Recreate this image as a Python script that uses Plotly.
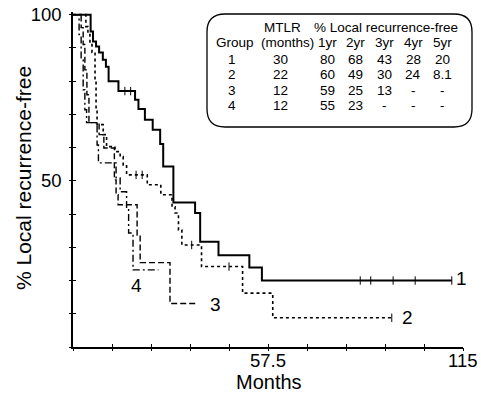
import numpy as np
import plotly.graph_objects as go

# Kaplan-Meier style step curves: event times (months) and survival (%)
g1_t = [0, 5.2, 5.9, 6.8, 7.7, 8.8, 9.7, 10.5, 13.4, 18.3, 19.3, 21.2, 23.5, 25.7, 26.6, 29.6, 36.0, 37.5, 42.9, 52.0, 55.7]
g1_s = [100, 94.9, 91.9, 90.4, 88.6, 86.4, 84.3, 80.0, 77.0, 74.4, 71.6, 68.4, 65.4, 61.1, 54.3, 43.5, 40.3, 31.7, 27.6, 23.9, 20.0]
g1_end = 111.7
g1_cens = [15.3, 17.0, 84.7, 87.8, 94.4, 100.9, 111.7]

g2_t = [0, 3.8, 4.4, 5.0, 5.6, 6.5, 6.8, 7.1, 8.9, 9.9, 12.4, 13.9, 14.8, 15.8, 21.9, 25.9, 29.2, 30.1, 31.1, 32.1, 37.9, 50.0, 58.9]
g2_s = [100, 96.4, 94.0, 91.0, 88.6, 80.4, 71.4, 66.9, 63.9, 60.3, 58.8, 57.3, 54.8, 51.8, 48.8, 45.8, 42.2, 40.3, 35.2, 30.7, 24.2, 16.2, 8.8]
g2_end = 94.0
g2_cens = [18.6, 20.4, 35.0, 46.0, 94.0]

g3_t = [0, 2.4, 3.0, 3.5, 4.1, 4.7, 7.7, 9.1, 12.2, 12.7, 13.3, 18.9, 19.8, 28.6]
g3_s = [100, 96.1, 91.0, 83.4, 75.9, 67.5, 63.9, 59.9, 50.3, 45.8, 42.8, 33.7, 25.4, 13.1]
g3_end = 36.9

g4_t = [0, 1.8, 2.4, 3.0, 3.5, 4.0, 7.1, 7.5, 12.7, 13.9, 15.8, 16.4, 17.7]
g4_s = [100, 94.0, 86.4, 77.4, 71.4, 67.5, 60.8, 55.4, 50.9, 46.7, 41.3, 34.3, 23.2]
g4_end = 25.2

# Summary table
tbl_groups = ["1", "2", "3", "4"]
tbl_mtlr = ["30", "22", "12", "12"]
tbl_years = ["1yr", "2yr", "3yr", "4yr", "5yr"]
tbl_rates = [
    ["80", "68", "43", "28", "20"],
    ["60", "49", "30", "24", "8.1"],
    ["59", "25", "13", "-", "-"],
    ["55", "23", "-", "-", "-"],
]

x_ticks = [11.5 * i for i in range(11)]
x_labels = {57.5: "57.5", 115: "115"}
y_ticks = list(range(0, 101, 10))
y_labels = {50: "50", 100: "100"}

FONT = "Liberation Sans, Arial, sans-serif"
W, H = 481, 395
ML, MR, MT, MB = 73, 18, 12, 48

fig = go.Figure()


def km(t, s, end, dash, width, name):
    xs = list(t) + [end]
    ys = list(s) + [s[-1]]
    fig.add_trace(go.Scatter(x=xs, y=ys, mode="lines", line_shape="hv",
                             line=dict(color="black", width=width, dash=dash),
                             name=name, showlegend=False, hoverinfo="skip"))


def censor(t, s, times):
    t = np.asarray(t)
    s = np.asarray(s)
    idx = np.searchsorted(t, times, side="right") - 1
    fig.add_trace(go.Scatter(x=times, y=s[idx], mode="markers",
                             marker=dict(symbol="line-ns", size=6,
                                         line=dict(color="black", width=1)),
                             showlegend=False, hoverinfo="skip"))


km(g1_t, g1_s, g1_end, "solid", 2.0, "1")
km(g2_t, g2_s, g2_end, "dot", 1.6, "2")
km(g3_t, g3_s, g3_end, "6px,3px", 1.4, "3")
km(g4_t, g4_s, g4_end, "7px,3px,2px,3px", 1.4, "4")
censor(g1_t, g1_s, g1_cens)
censor(g2_t, g2_s, g2_cens)

# invisible trace so the overlaid axes (outer ticks) are drawn
fig.add_trace(go.Scatter(x=[0], y=[0], xaxis="x2", yaxis="y2", mode="markers",
                         marker=dict(opacity=0), showlegend=False, hoverinfo="skip"))

# curve labels
for txt, x, y in [("1", 114.5, 20.5), ("2", 98.5, 9.0), ("3", 42.0, 12.7), ("4", 18.6, 18.5)]:
    fig.add_annotation(x=x, y=y, text=txt, showarrow=False,
                       font=dict(family=FONT, size=19, color="black"))


def px_x(px):
    return (px - ML) / (W - ML - MR)


def px_y(py):
    return (H - MB - py) / (H - MT - MB)


# x tick labels, placed just under the axis line
for v, txt in x_labels.items():
    fig.add_annotation(x=v, xref="x", y=px_y(360), yref="paper", text=txt,
                       showarrow=False, xanchor="center", yanchor="middle",
                       font=dict(family=FONT, size=18.5, color="black"))

# axis titles
fig.add_annotation(x=px_x(269), y=px_y(382), xref="paper", yref="paper", text="Months",
                   showarrow=False, xanchor="center", yanchor="middle",
                   font=dict(family=FONT, size=20, color="black"))
fig.add_annotation(x=px_x(23), y=px_y(178), xref="paper", yref="paper",
                   text="% Local recurrence-free", textangle=-90,
                   showarrow=False, xanchor="center", yanchor="middle",
                   font=dict(family=FONT, size=21, color="black"))

# rounded box around the table
x0, x1, y0, y1 = px_x(207), px_x(472), px_y(127), px_y(14)
rx, ry = 18 / (W - ML - MR), 18 / (H - MT - MB)
path = (f"M {x0+rx},{y1} L {x1-rx},{y1} Q {x1},{y1} {x1},{y1-ry} "
        f"L {x1},{y0+ry} Q {x1},{y0} {x1-rx},{y0} L {x0+rx},{y0} "
        f"Q {x0},{y0} {x0},{y0+ry} L {x0},{y1-ry} Q {x0},{y1} {x0+rx},{y1} Z")
fig.add_shape(type="path", path=path, xref="paper", yref="paper",
              line=dict(color="black", width=1.3), fillcolor="white", layer="above")


def cell(text, cx, cy):
    fig.add_annotation(x=px_x(cx), y=px_y(cy), xref="paper", yref="paper",
                       text=text, showarrow=False, xanchor="center", yanchor="middle",
                       borderpad=0, font=dict(family=FONT, size=13.5, color="black"))


col_x = [327, 355, 384, 413, 442]
cell("MTLR", 282, 27.5)
cell("% Local recurrence-free", 386, 27.5)
cell("Group", 235, 43)
cell("(months)", 287, 43)
for j, yr in enumerate(tbl_years):
    cell(yr, col_x[j], 43)
for i, g in enumerate(tbl_groups):
    cy = 59 + i * 15.6
    cell(g, 232, cy)
    cell(tbl_mtlr[i], 280, cy)
    for j, v in enumerate(tbl_rates[i]):
        cell(v, col_x[j], cy)

# main axes carry the inner ticks; overlaid axes add the outer ticks
axis_common = dict(showgrid=False, zeroline=False, showline=True, linecolor="black",
                   linewidth=1.5, ticks="inside", ticklen=3, tickwidth=1.2, tickcolor="black",
                   automargin=False,
                   tickfont=dict(family=FONT, size=18.5, color="black"))
outer_common = dict(showticklabels=False, ticks="outside", ticklen=3, tickcolor="black",
                    tickwidth=1.2, showgrid=False, zeroline=False, showline=False,
                    automargin=False)

fig.update_layout(
    template="none",
    width=W, height=H,
    margin=dict(l=ML, r=MR, t=MT, b=MB, pad=0),
    plot_bgcolor="white", paper_bgcolor="white",
    xaxis=dict(range=[0, 115], tickvals=x_ticks, showticklabels=False,
               **axis_common),
    yaxis=dict(range=[0, 100.8], tickvals=y_ticks,
               ticktext=[y_labels.get(v, "") for v in y_ticks],
               ticklabelstandoff=6,
               **axis_common),
    xaxis2=dict(range=[0, 115], overlaying="x", tickvals=x_ticks, **outer_common),
    yaxis2=dict(range=[0, 100.8], overlaying="y", tickvals=y_ticks, **outer_common),
)

fig.write_html("out.html")
